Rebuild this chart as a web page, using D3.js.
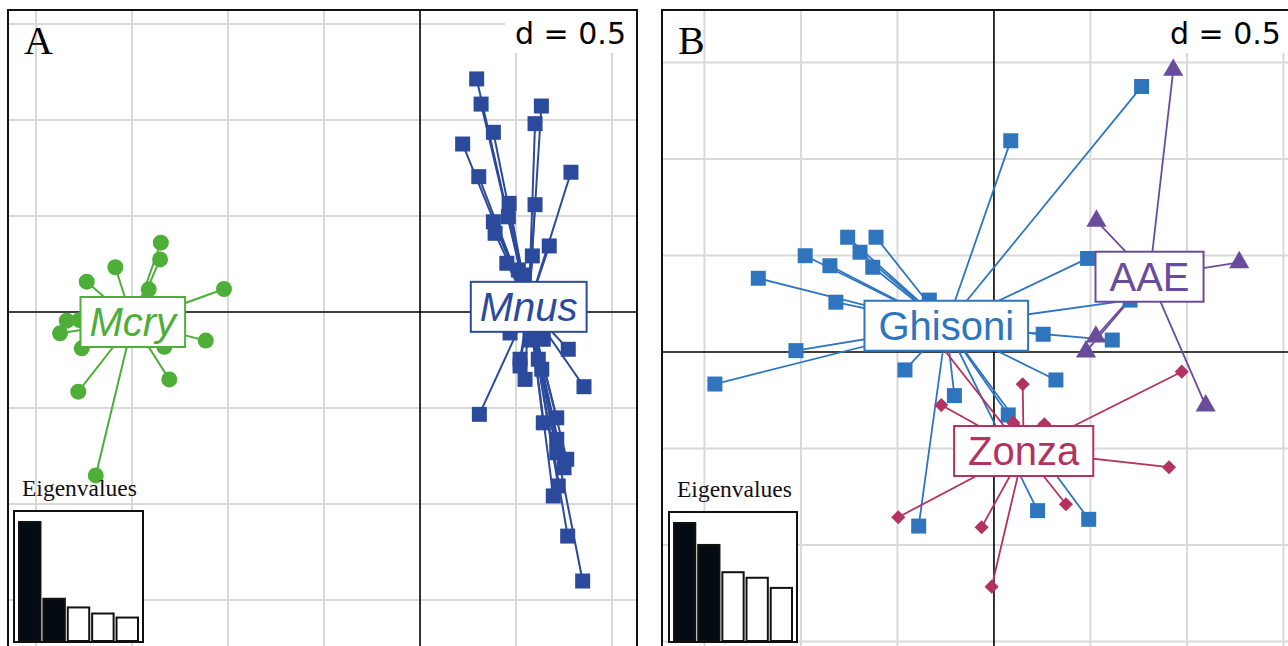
<!DOCTYPE html>
<html>
<head>
<meta charset="utf-8">
<script src="https://cdn.jsdelivr.net/npm/d3@7"></script>
<style>
body { margin: 0; background: #fff; }
</style>
</head>
<body>
<script>
// ---- data (ordination units, grid step d = 0.5) ----
var gridTicks = [-2, -1.5, -1, -0.5, 0.5, 1, 1.5];

// panel A : species
var groupsA    = ["Mcry", "Mnus"];
var centroidsA = [[-1.496, -0.052], [0.566, 0.027]];
var pointsMcry = [
	[-1.350, 0.361], [-1.354, 0.274], [-1.587, 0.233], [-1.736, 0.158], [-1.413, 0.118],
	[-1.021, 0.120], [-1.840, -0.045], [-1.875, -0.111], [-1.774, -0.042], [-1.762, -0.189],
	[-1.332, -0.181], [-1.116, -0.149], [-1.306, -0.351], [-1.780, -0.415], [-1.689, -0.851]
];
var pointsMnus = [
	[0.295, 1.214], [0.318, 1.083], [0.632, 1.073], [0.599, 0.981], [0.382, 0.936],
	[0.222, 0.875], [0.786, 0.728], [0.306, 0.705], [0.464, 0.566], [0.599, 0.559],
	[0.460, 0.496], [0.382, 0.470], [0.391, 0.410], [0.673, 0.344], [0.452, 0.254],
	[0.585, 0.292], [0.512, 0.219], [0.542, 0.193], [0.469, -0.109], [0.573, -0.146],
	[0.642, -0.142], [0.772, -0.194], [0.521, -0.246], [0.521, -0.281], [0.616, -0.246],
	[0.634, -0.298], [0.547, -0.351], [0.854, -0.389], [0.309, -0.533], [0.642, -0.577],
	[0.712, -0.551], [0.712, -0.663], [0.712, -0.733], [0.764, -0.767], [0.750, -0.811],
	[0.720, -0.906], [0.694, -0.958], [0.769, -1.167], [0.847, -1.401]
];
var eigenA = [1.00, 0.355, 0.282, 0.231, 0.197];

// panel B : populations
var groupsB    = ["Ghisoni", "Zonza", "AAE"];
var centroidsB = [[-0.247, 0.136], [0.154, -0.513], [0.806, 0.390]];
var pointsGhisoni = [
	[-0.758, 0.594], [-0.611, 0.594], [-0.978, 0.499], [-0.694, 0.517], [-0.850, 0.447],
	[-0.628, 0.439], [-1.221, 0.382], [-0.819, 0.258], [-0.335, 0.269], [-1.446, -0.166],
	[-1.026, 0.007], [-0.461, -0.093], [-0.205, -0.226], [0.765, 1.375], [0.087, 1.095],
	[0.485, 0.485], [0.255, 0.092], [0.613, 0.062], [0.321, -0.145], [0.074, -0.326],
	[0.226, -0.822], [0.491, -0.867], [-0.390, -0.902], [0.705, 0.269]
];
var pointsZonza = [
	[0.149, -0.167], [-0.273, -0.275], [0.100, -0.366], [0.261, -0.375], [-0.496, -0.856],
	[-0.064, -0.908], [0.373, -0.789], [-0.012, -1.216], [0.973, -0.102], [0.907, -0.597],
	[-0.290, 0.052]
];
var pointsAAE = [
	[0.929, 1.461], [0.531, 0.679], [1.271, 0.464], [0.528, 0.079], [0.477, 0.002],
	[1.097, -0.278]
];
var eigenB = [1.00, 0.814, 0.583, 0.536, 0.450];

// ---- layout ----
var width  = 1288,
	height = 646;

var sansFont  = "'Liberation Sans', Arial, sans-serif",
	serifFont = "'Liberation Serif', 'Times New Roman', serif";

var svg = d3.select("body")
	.append("svg")
	.attr("width", width)
	.attr("height", height);

var panels = [
	{
		id: "A", left: 8, top: 10, unit: 192,
		xDomain: [-2.146, 1.130], yDomain: [1.573, -2.0],
		groups: groupsA, centroids: centroidsA,
		points: [pointsMcry, pointsMnus],
		colors: ["#4dae38", "#2c4a9c"],
		shapes: ["circle", "square"],
		italic: true, pad: 9, lineWidth: 2,
		eigen: eigenA, eigBox: { x: 14, y: 511, w: 129, h: 131 }
	},
	{
		id: "B", left: 662, top: 10, unit: 193,
		xDomain: [-1.720, 1.544], yDomain: [1.772, -1.80],
		groups: groupsB, centroids: centroidsB,
		points: [pointsGhisoni, pointsZonza, pointsAAE],
		colors: ["#2e75be", "#b4325f", "#6a4c9c"],
		shapes: ["square", "diamond", "triangle"],
		italic: false, pad: 14, lineWidth: 1.8,
		eigen: eigenB, eigBox: { x: 669, y: 512, w: 128, h: 130 }
	}
];

function symbolPath(shape) {
	if (shape == "circle")   return d3.symbol().type(d3.symbolCircle).size(201)();
	if (shape == "square")   return d3.symbol().type(d3.symbolSquare).size(225)();
	if (shape == "diamond")  return d3.symbol().type(d3.symbolSquare).size(100)();
	return d3.symbol().type(d3.symbolTriangle).size(175)();
}

function drawPanel(p) {
	var right  = p.left + (p.xDomain[1] - p.xDomain[0]) * p.unit,
		bottom = p.top + (p.yDomain[0] - p.yDomain[1]) * p.unit;

	var x = d3.scaleLinear().domain(p.xDomain).range([p.left, right]),
		y = d3.scaleLinear().domain(p.yDomain).range([p.top, bottom]);

	svg.append("clipPath")
		.attr("id", "clip" + p.id)
	.append("rect")
		.attr("x", p.left)
		.attr("y", p.top)
		.attr("width", right - p.left)
		.attr("height", bottom - p.top);

	var g = svg.append("g")
		.attr("clip-path", "url(#clip" + p.id + ")");

	g.append("rect")
		.attr("x", p.left)
		.attr("y", p.top)
		.attr("width", right - p.left)
		.attr("height", bottom - p.top)
		.style("fill", "#fff");

	// grid
	var xt = gridTicks.filter(function(t) { return t > p.xDomain[0] && t < p.xDomain[1]; }),
		yt = gridTicks.filter(function(t) { return t < p.yDomain[0] && t > p.yDomain[1]; });

	g.selectAll(".vgrid").data(xt).enter()
		.append("line")
		.attr("x1", function(d) { return x(d); })
		.attr("x2", function(d) { return x(d); })
		.attr("y1", p.top)
		.attr("y2", bottom)
		.style("stroke", "#d9d9d9")
		.style("stroke-width", 2);

	g.selectAll(".hgrid").data(yt).enter()
		.append("line")
		.attr("x1", p.left)
		.attr("x2", right)
		.attr("y1", function(d) { return y(d); })
		.attr("y2", function(d) { return y(d); })
		.style("stroke", "#d9d9d9")
		.style("stroke-width", 2);

	// axes through the origin
	g.append("line")
		.attr("x1", x(0)).attr("x2", x(0))
		.attr("y1", p.top).attr("y2", bottom)
		.style("stroke", "#000").style("stroke-width", 1.6);
	g.append("line")
		.attr("x1", p.left).attr("x2", right)
		.attr("y1", y(0)).attr("y2", y(0))
		.style("stroke", "#000").style("stroke-width", 1.6);

	// stars: centroid to every individual
	p.groups.forEach(function(name, i) {
		var c = p.centroids[i];
		g.selectAll(".star" + i).data(p.points[i]).enter()
			.append("line")
			.attr("x1", x(c[0]))
			.attr("y1", y(c[1]))
			.attr("x2", function(d) { return x(d[0]); })
			.attr("y2", function(d) { return y(d[1]); })
			.style("stroke", p.colors[i])
			.style("stroke-width", p.lineWidth);
	});

	p.groups.forEach(function(name, i) {
		var path = symbolPath(p.shapes[i]),
			rot  = p.shapes[i] == "diamond" ? " rotate(45)" : "";
		g.selectAll(".pt" + i).data(p.points[i]).enter()
			.append("path")
			.attr("d", path)
			.attr("transform", function(d) {
				return "translate(" + x(d[0]) + "," + y(d[1]) + ")" + rot;
			})
			.style("fill", p.colors[i]);
	});

	// group labels in boxes
	p.groups.forEach(function(name, i) {
		var c  = p.centroids[i],
			lg = g.append("g");
		var box = lg.append("rect");
		var txt = lg.append("text")
			.attr("x", x(c[0]))
			.attr("y", y(c[1]) + 14.4)
			.attr("text-anchor", "middle")
			.style("font-family", sansFont)
			.style("font-size", "40px")
			.style("font-style", p.italic ? "italic" : "normal")
			.style("fill", p.colors[i])
			.text(name);
		var w = txt.node().getComputedTextLength() + 2 * p.pad;
		box.attr("x", x(c[0]) - w / 2)
			.attr("y", y(c[1]) - 25)
			.attr("width", w)
			.attr("height", 50)
			.style("fill", "#fff")
			.style("stroke", p.colors[i])
			.style("stroke-width", 2);
	});

	// scale note
	var dBox = g.append("rect");
	var dTxt = g.append("text")
		.attr("x", right - 11)
		.attr("y", p.top + 34)
		.attr("text-anchor", "end")
		.style("font-family", "'DejaVu Sans', sans-serif")
		.style("font-size", "30px")
		.style("fill", "#000")
		.text("d = 0.5");
	var bb = dTxt.node().getBBox();
	dBox.attr("x", bb.x - 10)
		.attr("y", p.top)
		.attr("width", right - bb.x + 10)
		.attr("height", bb.y + bb.height - p.top + 2)
		.style("fill", "#fff");

	// panel letter
	g.append("text")
		.attr("x", p.left + 16)
		.attr("y", p.top + 44)
		.style("font-family", serifFont)
		.style("font-size", "40px")
		.style("fill", "#000")
		.text(p.id);

	// eigenvalues inset
	var e = p.eigBox;
	g.append("text")
		.attr("x", e.x + 8)
		.attr("y", e.y - 15)
		.style("font-family", serifFont)
		.style("font-size", "23.5px")
		.style("fill", "#111")
		.text("Eigenvalues");

	g.append("rect")
		.attr("x", e.x).attr("y", e.y)
		.attr("width", e.w).attr("height", e.h)
		.style("fill", "#fff")
		.style("stroke", "#111")
		.style("stroke-width", 2);

	var bx = d3.scaleBand()
		.domain(d3.range(p.eigen.length))
		.range([e.x + 5, e.x + e.w - 5])
		.paddingInner(0.12);
	var by = d3.scaleLinear()
		.domain([0, d3.max(p.eigen)])
		.range([e.y + e.h - 1, e.y + 11]);

	g.selectAll(".eig").data(p.eigen).enter()
		.append("rect")
		.attr("x", function(d, i) { return bx(i); })
		.attr("y", function(d) { return by(d); })
		.attr("width", bx.bandwidth())
		.attr("height", function(d) { return by(0) - by(d); })
		.style("fill", function(d, i) { return i < 2 ? "#050b12" : "#fff"; })
		.style("stroke", "#111")
		.style("stroke-width", 2);

	// frame
	svg.append("rect")
		.attr("x", p.left)
		.attr("y", p.top)
		.attr("width", right - p.left)
		.attr("height", bottom - p.top)
		.style("fill", "none")
		.style("stroke", "#111")
		.style("stroke-width", 2);
}

panels.forEach(drawPanel);
</script>
</body>
</html>
